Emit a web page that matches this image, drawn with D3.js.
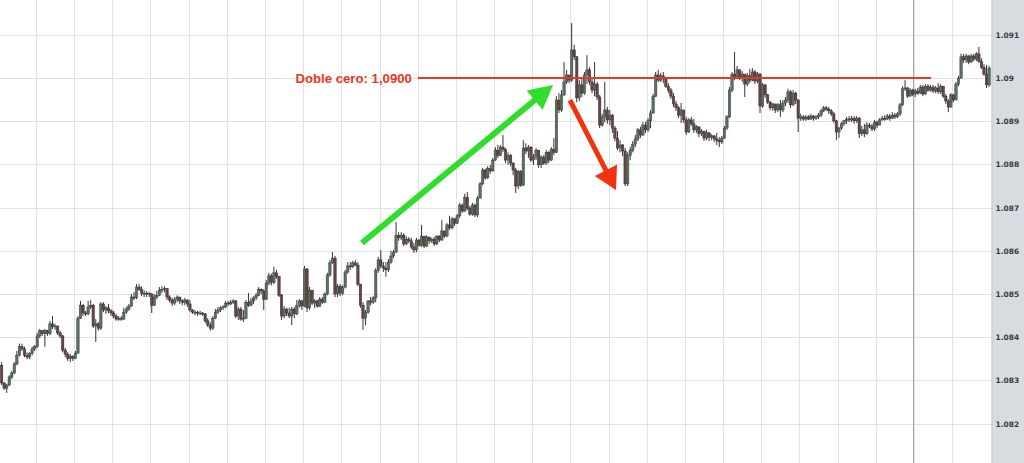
<!DOCTYPE html>
<html><head><meta charset="utf-8">
<script src="https://cdn.jsdelivr.net/npm/d3@7"></script>
<style>html,body{margin:0;padding:0;background:#fff;overflow:hidden}</style>
</head><body>
<svg id="chart" width="1024" height="463"></svg>
<script>
// ---- data (EUR/USD candles) ----
const firstOpen = 1.08335;
const closes = [
1.08294,1.08282,1.08289,1.08308,1.08317,1.08338,1.08358,1.08378,1.08373,1.08358,
1.08354,1.08363,1.08373,1.08378,1.08403,1.08415,1.08408,1.08415,1.08408,1.08431,
1.08424,1.08426,1.08410,1.08403,1.08370,1.08361,1.08351,1.08356,1.08351,1.08363,
1.08444,1.08474,1.08456,1.08454,1.08470,1.08474,1.08426,1.08431,1.08421,1.08477,
1.08463,1.08468,1.08461,1.08456,1.08449,1.08442,1.08444,1.08442,1.08458,1.08465,
1.08472,1.08493,1.08491,1.08516,1.08511,1.08502,1.08500,1.08502,1.08500,1.08474,
1.08493,1.08497,1.08509,1.08511,1.08513,1.08493,1.08486,1.08479,1.08488,1.08493,
1.08484,1.08481,1.08486,1.08477,1.08463,1.08458,1.08458,1.08456,1.08456,1.08454,
1.08438,1.08428,1.08421,1.08444,1.08458,1.08463,1.08468,1.08470,1.08479,1.08477,
1.08481,1.08484,1.08449,1.08465,1.08442,1.08444,1.08481,1.08474,1.08484,1.08491,
1.08497,1.08511,1.08507,1.08488,1.08525,1.08542,1.08527,1.08549,1.08540,1.08497,
1.08449,1.08465,1.08456,1.08449,1.08465,1.08454,1.08474,1.08484,1.08472,1.08558,
1.08468,1.08509,1.08479,1.08484,1.08472,1.08488,1.08481,1.08500,1.08544,1.08572,
1.08583,1.08500,1.08518,1.08502,1.08516,1.08551,1.08565,1.08563,1.08572,1.08567,
1.08523,1.08474,1.08444,1.08458,1.08484,1.08481,1.08491,1.08554,1.08579,1.08565,
1.08560,1.08556,1.08574,1.08588,1.08597,1.08636,1.08630,1.08636,1.08616,1.08627,
1.08623,1.08609,1.08602,1.08625,1.08613,1.08634,1.08611,1.08632,1.08623,1.08627,
1.08616,1.08634,1.08625,1.08646,1.08634,1.08660,1.08653,1.08674,1.08664,1.08681,
1.08706,1.08692,1.08724,1.08699,1.08685,1.08706,1.08683,1.08722,1.08755,1.08787,
1.08769,1.08790,1.08785,1.08810,1.08833,1.08821,1.08840,1.08835,1.08810,1.08821,
1.08803,1.08787,1.08750,1.08783,1.08752,1.08838,1.08831,1.08840,1.08810,1.08817,
1.08833,1.08799,1.08817,1.08803,1.08828,1.08810,1.08835,1.08828,1.08949,1.08926,
1.08961,1.08991,1.09007,1.08995,1.09065,1.09049,1.08954,1.08984,1.08965,1.09007,
1.09019,1.08991,1.08972,1.08986,1.08956,1.08891,1.08910,1.08926,1.08903,1.08914,
1.08884,1.08861,1.08838,1.08845,1.08831,1.08755,1.08821,1.08833,1.08847,1.08859,
1.08880,1.08868,1.08891,1.08880,1.08901,1.08919,1.08958,1.09007,1.08995,1.09005,
1.08998,1.08981,1.08972,1.08958,1.08940,1.08931,1.08914,1.08926,1.08903,1.08875,
1.08903,1.08894,1.08880,1.08887,1.08871,1.08877,1.08861,1.08873,1.08863,1.08866,
1.08859,1.08856,1.08852,1.08861,1.08884,1.08910,1.08972,1.09009,1.09000,1.09019,
1.09002,1.09009,1.08986,1.09005,1.08995,1.09014,1.08993,1.09009,1.08935,1.08984,
1.08961,1.08944,1.08931,1.08940,1.08926,1.08938,1.08926,1.08942,1.08949,1.08968,
1.08938,1.08965,1.08949,1.08907,1.08910,1.08905,1.08910,1.08905,1.08912,1.08907,
1.08910,1.08914,1.08924,1.08931,1.08928,1.08924,1.08917,1.08901,1.08875,1.08884,
1.08894,1.08901,1.08905,1.08903,1.08907,1.08901,1.08907,1.08871,1.08880,1.08871,
1.08891,1.08889,1.08882,1.08898,1.08891,1.08903,1.08907,1.08905,1.08912,1.08907,
1.08914,1.08910,1.08917,1.08938,1.08975,1.08977,1.08958,1.08972,1.08963,1.08970,
1.08965,1.08979,1.08963,1.08981,1.08972,1.08979,1.08970,1.08977,1.08968,1.08981,
1.08958,1.08947,1.08933,1.08961,1.08949,1.08986,1.09000,1.09049,1.09042,1.09051,
1.09037,1.09051,1.09044,1.09056,1.09039,1.09025,1.09009,1.08984,1.09023
];
const highs = [
1.08342,1.08296,1.08292,1.08312,1.08322,1.08342,1.08368,1.08385,1.08385,1.08378,
1.08365,1.08365,1.08378,1.08382,1.08410,1.08419,1.08415,1.08419,1.08417,1.08438,
1.08449,1.08431,1.08426,1.08415,1.08405,1.08375,1.08365,1.08361,1.08358,1.08368,
1.08449,1.08484,1.08477,1.08461,1.08484,1.08486,1.08477,1.08442,1.08435,1.08481,
1.08481,1.08472,1.08477,1.08465,1.08461,1.08454,1.08449,1.08449,1.08468,1.08470,
1.08477,1.08500,1.08504,1.08523,1.08523,1.08518,1.08509,1.08507,1.08504,1.08502,
1.08500,1.08507,1.08516,1.08518,1.08518,1.08513,1.08497,1.08491,1.08493,1.08497,
1.08493,1.08488,1.08491,1.08488,1.08486,1.08465,1.08463,1.08461,1.08461,1.08458,
1.08456,1.08444,1.08435,1.08449,1.08465,1.08470,1.08472,1.08474,1.08484,1.08484,
1.08486,1.08488,1.08486,1.08470,1.08470,1.08463,1.08486,1.08502,1.08491,1.08495,
1.08502,1.08516,1.08513,1.08511,1.08532,1.08549,1.08547,1.08563,1.08556,1.08542,
1.08500,1.08472,1.08468,1.08468,1.08470,1.08470,1.08486,1.08488,1.08486,1.08565,
1.08560,1.08516,1.08509,1.08488,1.08486,1.08493,1.08493,1.08504,1.08549,1.08579,
1.08597,1.08588,1.08523,1.08523,1.08520,1.08556,1.08574,1.08574,1.08577,1.08579,
1.08574,1.08523,1.08481,1.08463,1.08486,1.08493,1.08495,1.08560,1.08586,1.08602,
1.08574,1.08574,1.08581,1.08600,1.08602,1.08667,1.08643,1.08643,1.08641,1.08634,
1.08632,1.08630,1.08618,1.08630,1.08627,1.08660,1.08634,1.08636,1.08632,1.08630,
1.08632,1.08636,1.08636,1.08671,1.08646,1.08664,1.08681,1.08678,1.08676,1.08685,
1.08711,1.08709,1.08732,1.08736,1.08704,1.08711,1.08709,1.08727,1.08759,1.08792,
1.08790,1.08796,1.08799,1.08815,1.08840,1.08845,1.08845,1.08868,1.08838,1.08828,
1.08824,1.08805,1.08792,1.08787,1.08787,1.08856,1.08849,1.08845,1.08842,1.08824,
1.08838,1.08833,1.08821,1.08821,1.08833,1.08831,1.08840,1.08861,1.08958,1.08965,
1.08972,1.09037,1.09019,1.09007,1.09127,1.09077,1.09051,1.08995,1.09000,1.09014,
1.09053,1.09025,1.09000,1.09037,1.08991,1.08961,1.08917,1.08991,1.08933,1.08926,
1.08917,1.08889,1.08877,1.08856,1.08847,1.08838,1.08828,1.08840,1.08854,1.08868,
1.08884,1.08887,1.08898,1.08898,1.08907,1.08926,1.08963,1.09014,1.09019,1.09012,
1.09014,1.09000,1.08988,1.08977,1.08965,1.08947,1.08935,1.08942,1.08926,1.08910,
1.08907,1.08910,1.08905,1.08891,1.08887,1.08882,1.08877,1.08880,1.08875,1.08870,
1.08868,1.08873,1.08863,1.08866,1.08889,1.08914,1.08979,1.09014,1.09060,1.09028,
1.09019,1.09016,1.09009,1.09012,1.09021,1.09023,1.09019,1.09014,1.09012,1.08988,
1.08986,1.08963,1.08947,1.08942,1.08940,1.08942,1.08949,1.08949,1.08956,1.08975,
1.08972,1.08972,1.08968,1.08951,1.08917,1.08914,1.08914,1.08914,1.08917,1.08914,
1.08914,1.08919,1.08928,1.08935,1.08935,1.08933,1.08928,1.08921,1.08903,1.08887,
1.08898,1.08903,1.08910,1.08912,1.08912,1.08912,1.08912,1.08910,1.08889,1.08894,
1.08898,1.08896,1.08894,1.08903,1.08901,1.08907,1.08912,1.08914,1.08917,1.08917,
1.08921,1.08919,1.08921,1.08942,1.08981,1.08995,1.08979,1.08977,1.08975,1.08975,
1.08977,1.08984,1.08984,1.08986,1.08986,1.08984,1.08984,1.08981,1.08988,1.08986,
1.08981,1.08963,1.08951,1.08965,1.08963,1.08991,1.09005,1.09056,1.09056,1.09056,
1.09053,1.09056,1.09056,1.09060,1.09072,1.09046,1.09032,1.09030,1.09028
];
const lows = [
1.08289,1.08278,1.08271,1.08287,1.08303,1.08315,1.08335,1.08356,1.08368,1.08354,
1.08349,1.08349,1.08358,1.08368,1.08375,1.08398,1.08403,1.08378,1.08403,1.08405,
1.08419,1.08417,1.08405,1.08398,1.08365,1.08354,1.08345,1.08342,1.08345,1.08349,
1.08361,1.08442,1.08449,1.08449,1.08451,1.08465,1.08421,1.08389,1.08415,1.08417,
1.08458,1.08454,1.08456,1.08449,1.08444,1.08438,1.08438,1.08438,1.08440,1.08454,
1.08461,1.08470,1.08486,1.08488,1.08507,1.08495,1.08493,1.08493,1.08493,1.08456,
1.08472,1.08488,1.08495,1.08502,1.08504,1.08486,1.08481,1.08472,1.08474,1.08481,
1.08477,1.08474,1.08474,1.08470,1.08458,1.08454,1.08451,1.08449,1.08451,1.08449,
1.08433,1.08424,1.08415,1.08417,1.08442,1.08454,1.08458,1.08463,1.08468,1.08472,
1.08474,1.08477,1.08444,1.08440,1.08438,1.08435,1.08442,1.08470,1.08472,1.08477,
1.08486,1.08495,1.08500,1.08463,1.08486,1.08520,1.08520,1.08523,1.08535,1.08493,
1.08440,1.08444,1.08449,1.08444,1.08428,1.08444,1.08451,1.08468,1.08463,1.08470,
1.08458,1.08463,1.08474,1.08468,1.08468,1.08470,1.08477,1.08479,1.08497,1.08540,
1.08570,1.08493,1.08493,1.08495,1.08497,1.08513,1.08547,1.08556,1.08560,1.08565,
1.08518,1.08468,1.08417,1.08428,1.08454,1.08474,1.08477,1.08481,1.08549,1.08560,
1.08551,1.08540,1.08551,1.08570,1.08583,1.08595,1.08623,1.08625,1.08611,1.08613,
1.08618,1.08604,1.08595,1.08597,1.08609,1.08609,1.08606,1.08609,1.08616,1.08618,
1.08611,1.08613,1.08620,1.08623,1.08630,1.08632,1.08648,1.08650,1.08657,1.08662,
1.08676,1.08688,1.08690,1.08694,1.08681,1.08681,1.08678,1.08678,1.08720,1.08752,
1.08764,1.08766,1.08778,1.08783,1.08808,1.08815,1.08819,1.08828,1.08803,1.08799,
1.08796,1.08775,1.08734,1.08743,1.08748,1.08750,1.08824,1.08815,1.08805,1.08799,
1.08810,1.08792,1.08792,1.08799,1.08799,1.08803,1.08808,1.08821,1.08826,1.08919,
1.08921,1.08958,1.08986,1.08988,1.08991,1.09042,1.08944,1.08947,1.08956,1.08961,
1.08986,1.08984,1.08965,1.08958,1.08949,1.08884,1.08887,1.08898,1.08894,1.08891,
1.08873,1.08854,1.08833,1.08828,1.08819,1.08750,1.08750,1.08810,1.08828,1.08840,
1.08854,1.08861,1.08866,1.08873,1.08875,1.08884,1.08917,1.08956,1.08991,1.08991,
1.08988,1.08977,1.08965,1.08951,1.08933,1.08924,1.08907,1.08896,1.08896,1.08868,
1.08873,1.08889,1.08873,1.08873,1.08863,1.08866,1.08854,1.08856,1.08854,1.08856,
1.08852,1.08845,1.08840,1.08847,1.08859,1.08880,1.08907,1.08967,1.08995,1.08998,
1.08995,1.08991,1.08956,1.08981,1.08988,1.08993,1.08986,1.08988,1.08919,1.08931,
1.08954,1.08940,1.08926,1.08924,1.08919,1.08921,1.08910,1.08921,1.08935,1.08942,
1.08931,1.08935,1.08940,1.08875,1.08901,1.08901,1.08901,1.08903,1.08903,1.08901,
1.08903,1.08905,1.08910,1.08921,1.08924,1.08917,1.08912,1.08896,1.08856,1.08861,
1.08880,1.08889,1.08894,1.08898,1.08898,1.08894,1.08896,1.08861,1.08866,1.08863,
1.08868,1.08884,1.08877,1.08877,1.08884,1.08891,1.08901,1.08901,1.08903,1.08901,
1.08905,1.08905,1.08907,1.08912,1.08935,1.08970,1.08954,1.08958,1.08958,1.08956,
1.08961,1.08963,1.08958,1.08961,1.08968,1.08968,1.08965,1.08965,1.08963,1.08963,
1.08954,1.08940,1.08921,1.08931,1.08944,1.08949,1.08981,1.08998,1.09035,1.09035,
1.09032,1.09035,1.09039,1.09039,1.09035,1.09021,1.09005,1.08977,1.08979
];
const yTicks = [1.082,1.083,1.084,1.085,1.086,1.087,1.088,1.089,1.090,1.091];
const gridEvery = 15, gridFirst = 14;      // a vertical grid line every 15 candles
const sessionCandle = 358.7;               // darker separator line
const levelPrice = 1.0900, levelFrom = 164.1, levelTo = 365.7;
const levelLabel = "Doble cero: 1,0900";
const greenArrow = {from:[141.6, 1.08618], to:[216.7, 1.08984]};
const redArrow   = {from:[223.3, 1.08949], to:[241.4, 1.08741]};

// ---- layout ----
const W = 1024, H = 463, plotRight = 991.5;
const N = closes.length;
const slot = 2.545;
const x = d3.scaleLinear().domain([0, N]).range([0.33, 0.33 + N * slot]);
const y = d3.scaleLinear().domain([1.08, 1.09]).range([510, 78]);

const svg = d3.select("#chart");
svg.append("rect").attr("width", W).attr("height", H).attr("fill", "#fff");
svg.append("defs").append("clipPath").attr("id","plot")
  .append("rect").attr("x",0).attr("y",0).attr("width",plotRight).attr("height",H);

const plot = svg.append("g").attr("clip-path","url(#plot)");

// horizontal grid
plot.append("g").selectAll("line").data(yTicks).join("line")
  .attr("x1",0).attr("x2",plotRight)
  .attr("y1",d=>Math.round(y(d))+0.5).attr("y2",d=>Math.round(y(d))+0.5)
  .attr("stroke","#e2e2e2").attr("stroke-width",1);
// vertical grid
const vIdx = d3.range(gridFirst, N, gridEvery);
plot.append("g").selectAll("line").data(vIdx).join("line")
  .attr("x1",d=>Math.round(x(d))+0.5).attr("x2",d=>Math.round(x(d))+0.5)
  .attr("y1",0).attr("y2",H)
  .attr("stroke","#e2e2e2").attr("stroke-width",1);
// session separator
plot.append("line")
  .attr("x1",Math.round(x(sessionCandle))+0.5).attr("x2",Math.round(x(sessionCandle))+0.5)
  .attr("y1",0).attr("y2",H).attr("stroke","#a3a3a3").attr("stroke-width",1);

// candles
const candles = closes.map((c,i)=>({i, o: i ? closes[i-1] : firstOpen, c, h: highs[i], l: lows[i]}));
const cx = d => x(d.i + 0.5);
const g = plot.append("g");
g.selectAll("line.wick").data(candles).join("line").attr("class","wick")
  .attr("x1",cx).attr("x2",cx)
  .attr("y1",d=>y(d.h)).attr("y2",d=>y(d.l))
  .attr("stroke","#333").attr("stroke-width",1);
g.selectAll("rect.body").data(candles).join("rect").attr("class","body")
  .attr("x",d=>cx(d)-1.2).attr("width",2.4)
  .attr("y",d=>y(Math.max(d.o,d.c)))
  .attr("height",d=>Math.max(1, Math.abs(y(d.o)-y(d.c))))
  .attr("fill",d=>d.c>=d.o ? "#5d715f" : "#664548")
  .attr("stroke",d=>d.c>=d.o ? "#344037" : "#3a2a2c").attr("stroke-width",0.5);

// level line + label
const lineColor = "#e6391f";
svg.append("line")
  .attr("x1",x(levelFrom)).attr("x2",x(levelTo))
  .attr("y1",y(levelPrice)).attr("y2",y(levelPrice))
  .attr("stroke",lineColor).attr("stroke-width",2);
svg.append("text")
  .attr("x",x(levelFrom)-6).attr("y",y(levelPrice)+5)
  .attr("text-anchor","end")
  .attr("font-family","'Liberation Sans', Arial, sans-serif")
  .attr("font-weight","bold").attr("font-size",13.2)
  .attr("fill",lineColor).text(levelLabel);

// arrows
function arrow(spec, color, shaftW, headL, headW){
  const x0 = x(spec.from[0]+0.5), y0 = y(spec.from[1]);
  const x1 = x(spec.to[0]+0.5),   y1 = y(spec.to[1]);
  const dx = x1-x0, dy = y1-y0, len = Math.hypot(dx,dy);
  const ux = dx/len, uy = dy/len, px = -uy, py = ux;
  const bx = x1 - ux*headL, by = y1 - uy*headL;
  const s = shaftW/2, h = headW/2;
  const pts = [
    [x0+px*s, y0+py*s],[bx+px*s, by+py*s],[bx+px*h, by+py*h],[x1,y1],
    [bx-px*h, by-py*h],[bx-px*s, by-py*s],[x0-px*s, y0-py*s]
  ];
  svg.append("polygon").attr("points",pts.map(p=>p.join(",")).join(" "))
    .attr("fill",color);
}
arrow(greenArrow, "#2fde2a", 6, 24, 25);
arrow(redArrow, "#f2330f", 5, 22, 25);

// right price axis panel
svg.append("rect").attr("x",plotRight).attr("y",0).attr("width",W-plotRight).attr("height",H)
  .attr("fill","#d8dce1");
svg.append("line").attr("x1",plotRight+0.5).attr("x2",plotRight+0.5).attr("y1",0).attr("y2",H)
  .attr("stroke","#c4c8cd");
const axis = d3.axisRight(y).tickValues(yTicks).tickSize(0).tickPadding(0)
  .tickFormat(d=>d3.format(".3~f")(d));
const ag = svg.append("g").attr("transform",`translate(${plotRight+4},0)`).call(axis);
ag.select(".domain").remove();
ag.selectAll("text")
  .attr("font-family","'DejaVu Sans', Verdana, sans-serif")
  .attr("font-weight","bold").attr("font-size",7.5).attr("fill","#3a3a3a");
</script>
</body></html>
